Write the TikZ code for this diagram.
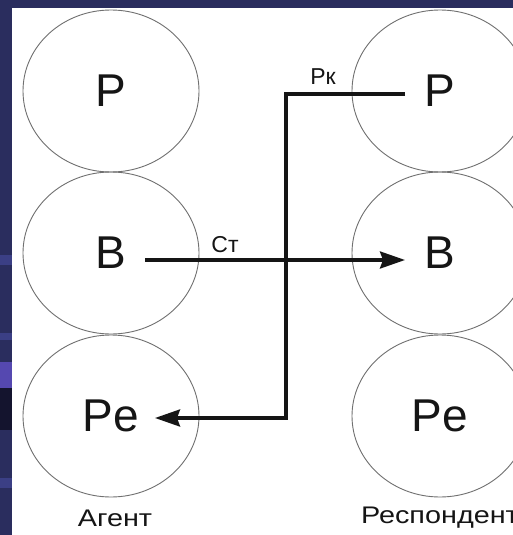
\documentclass[tikz,border=0pt]{standalone}
\usepackage{fontspec}
\setmainfont{Liberation Sans}
\newfontfamily\lblfont[FakeStretch=1.2]{Liberation Sans}
\usetikzlibrary{shapes.geometric,arrows.meta}
\definecolor{navy}{HTML}{2A2D5E}
\definecolor{stripeA}{HTML}{3B3F85}
\definecolor{stripeB}{HTML}{5548B0}
\definecolor{stripeC}{HTML}{14142E}
\definecolor{ink}{HTML}{151515}
\definecolor{ring}{HTML}{707070}
\tikzset{
  ring/.style={draw=ring, line width=0.9pt, ellipse, minimum width=176pt, minimum height=162pt, inner sep=0pt},
  big/.style={text=ink, inner sep=0pt, font=\fontsize{46}{50}\selectfont},
  small/.style={text=ink, inner sep=0pt, font=\fontsize{23}{26}\selectfont},
  caption/.style={text=ink, inner sep=0pt, font=\lblfont\fontsize{24}{27}\selectfont},
  flow/.style={draw=ink, line width=3.2pt},
  tip/.style={-{Stealth[length=25pt,width=17pt,inset=3pt]}}
}
\begin{document}
\begin{tikzpicture}[x=1pt,y=-1pt]
\useasboundingbox (0,0) rectangle (513,535);
% slide background
\fill[navy] (0,0) rectangle (513,535);
\fill[stripeA] (0,255) rectangle (12,265);
\fill[stripeA] (0,333) rectangle (12,340);
\fill[stripeB] (0,362) rectangle (12,388);
\fill[stripeC] (0,388) rectangle (12,430);
\fill[stripeA] (0,478) rectangle (12,488);
\fill[white] (12,8) rectangle (513,535);
% circles
\node[ring] (aP) at (111,91) {};
\node[ring] (aB) at (111,253) {};
\node[ring] (aR) at (111,416) {};
\node[ring] (rP) at (440,91) {};
\node[ring] (rB) at (440,253) {};
\node[ring] (rR) at (440,416) {};
% letters
\node[big] (aPt) at (aP) {P};
\node[big] (aBt) at (aB) {B};
\node[big] (aRt) at (aR) {Pe};
\node[big] (rPt) at (rP) {P};
\node[big] (rBt) at (rB) {B};
\node[big] (rRt) at (rR) {Pe};
% captions
\node[caption] (agent) at (115,518) {Агент};
\node[caption] (resp) at (440,518) {Респондент};
% connectors
\coordinate (ct0) at (145,260);
\coordinate (ct1) at (405,260);
\coordinate (rk0) at (405,94);
\coordinate (rk1) at (286,94);
\coordinate (rk2) at (286,418);
\coordinate (rk3) at (155,418);
\draw[flow,tip] (ct0) -- (ct1);
\draw[flow,tip,line join=miter] (rk0) -- (rk1) -- (rk2) -- (rk3);
% labels
\node[small] (ct) at (225,245) {Ст};
\node[small] (rk) at (323,77) {Рк};
\end{tikzpicture}
\end{document}
